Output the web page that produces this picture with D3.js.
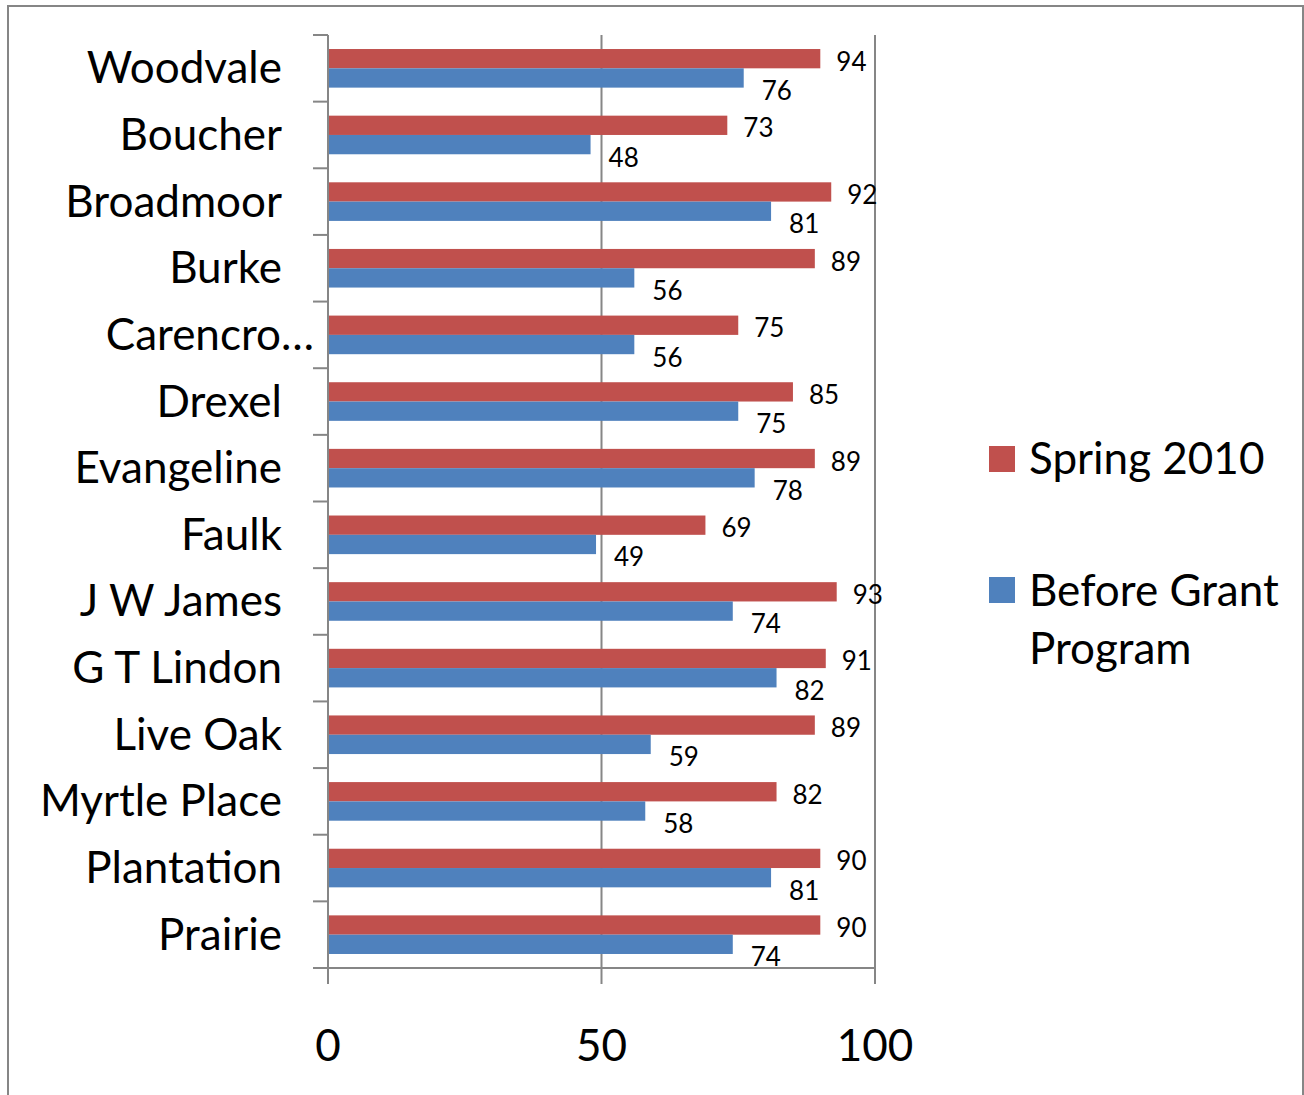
<!DOCTYPE html>
<html>
<head>
<meta charset="utf-8">
<script src="https://cdn.jsdelivr.net/npm/d3@7"></script>
<style>
  html, body { margin: 0; padding: 0; background: #fff; }
  svg { display: block; font-family: Lato, "Open Sans", sans-serif; }
</style>
</head>
<body>
<svg id="chart" width="1304" height="1095"></svg>
<script>
// categories, top to bottom
const schools = ["Woodvale", "Boucher", "Broadmoor", "Burke", "Carencro…", "Drexel",
  "Evangeline", "Faulk", "J W James", "G T Lindon", "Live Oak", "Myrtle Place",
  "Plantation", "Prairie"];

// Spring 2010 (bar lengths as drawn; Woodvale bar is drawn at 90 but labelled 94)
const springValues = [90, 73, 92, 89, 75, 85, 89, 69, 93, 91, 89, 82, 90, 90];
const springLabels = ["94", "73", "92", "89", "75", "85", "89", "69", "93", "91", "89", "82", "90", "90"];

// Before Grant Program
const beforeValues = [76, 48, 81, 56, 56, 75, 78, 49, 74, 82, 59, 58, 81, 74];

const xTicks = [0, 50, 100];
const seriesNames = ["Spring 2010", "Before Grant Program"];

const RED = "#C0504D";
const BLUE = "#4F81BD";
const AXIS = "#868686";

const svg = d3.select("#chart");

// outer frame
svg.append("rect")
  .attr("x", 8).attr("y", 6)
  .attr("width", 1295).attr("height", 1100)
  .attr("fill", "none")
  .attr("stroke", AXIS)
  .attr("stroke-width", 2);

// scales
const x = d3.scaleLinear().domain([0, 100]).range([328, 875]);
const y = d3.scaleBand().domain(schools).range([35, 968]).padding(0);
const sub = d3.scaleBand()
  .domain(["spring", "before"])
  .range([0, y.bandwidth()])
  .paddingInner(0)
  .paddingOuter(0.726);

// gridlines
svg.append("g")
  .selectAll("line")
  .data(xTicks.filter(d => d > 0))
  .join("line")
  .attr("x1", d => x(d)).attr("x2", d => x(d))
  .attr("y1", 35).attr("y2", 968)
  .attr("stroke", AXIS)
  .attr("stroke-width", 2);

// bars
const rows = schools.map((s, i) => ({
  school: s,
  spring: springValues[i],
  springLabel: springLabels[i],
  before: beforeValues[i]
}));

const groups = svg.append("g")
  .selectAll("g")
  .data(rows)
  .join("g")
  .attr("transform", d => `translate(0,${y(d.school)})`);

groups.append("rect")
  .attr("x", x(0))
  .attr("y", sub("spring"))
  .attr("width", d => x(d.spring) - x(0))
  .attr("height", sub.bandwidth())
  .attr("fill", RED);

groups.append("rect")
  .attr("x", x(0))
  .attr("y", sub("before"))
  .attr("width", d => x(d.before) - x(0))
  .attr("height", sub.bandwidth())
  .attr("fill", BLUE);

// data labels
groups.append("text")
  .attr("x", d => x(d.spring) + 16)
  .attr("y", sub("spring") + sub.bandwidth() / 2 + 12)
  .attr("font-size", 26)
  .attr("fill", "#000")
  .text(d => d.springLabel);

groups.append("text")
  .attr("x", d => x(d.before) + 18)
  .attr("y", sub("before") + sub.bandwidth() / 2 + 22)
  .attr("font-size", 26)
  .attr("fill", "#000")
  .text(d => d.before);

// y axis line + ticks at band boundaries
svg.append("line")
  .attr("x1", x(0)).attr("x2", x(0))
  .attr("y1", 35).attr("y2", 968)
  .attr("stroke", AXIS).attr("stroke-width", 2);

const bounds = schools.map(s => y(s)).concat([968]);
svg.append("g")
  .selectAll("line")
  .data(bounds)
  .join("line")
  .attr("x1", x(0) - 15).attr("x2", x(0))
  .attr("y1", d => d).attr("y2", d => d)
  .attr("stroke", AXIS).attr("stroke-width", 2);

// x axis line + ticks
svg.append("line")
  .attr("x1", x(0) - 15).attr("x2", x(100))
  .attr("y1", 968).attr("y2", 968)
  .attr("stroke", AXIS).attr("stroke-width", 2);

svg.append("g")
  .selectAll("line")
  .data(xTicks)
  .join("line")
  .attr("x1", d => x(d)).attr("x2", d => x(d))
  .attr("y1", 968).attr("y2", 984)
  .attr("stroke", AXIS).attr("stroke-width", 2);

svg.append("g")
  .selectAll("text")
  .data(xTicks)
  .join("text")
  .attr("x", d => x(d))
  .attr("y", 1061)
  .attr("text-anchor", "middle")
  .attr("font-size", 44)
  .attr("fill", "#000")
  .text(d => d);

// category labels (truncated ones run up to the tick marks, like Excel)
svg.append("g")
  .selectAll("text")
  .data(schools)
  .join("text")
  .attr("x", d => d.endsWith("…") ? x(0) - 14 : 282)
  .attr("y", d => y(d) + y.bandwidth() / 2 + 15)
  .attr("text-anchor", "end")
  .attr("font-size", 44)
  .attr("fill", "#000")
  .text(d => d);

// legend
const legend = svg.append("g");
legend.append("rect")
  .attr("x", 989).attr("y", 446).attr("width", 26).attr("height", 26)
  .attr("fill", RED);
legend.append("text")
  .attr("x", 1029).attr("y", 474)
  .attr("font-size", 44)
  .text(seriesNames[0]);

legend.append("rect")
  .attr("x", 989).attr("y", 577).attr("width", 26).attr("height", 26)
  .attr("fill", BLUE);
legend.append("text")
  .attr("x", 1029).attr("y", 606)
  .attr("font-size", 44)
  .text("Before Grant");
legend.append("text")
  .attr("x", 1029).attr("y", 664)
  .attr("font-size", 44)
  .text("Program");
</script>
</body>
</html>
